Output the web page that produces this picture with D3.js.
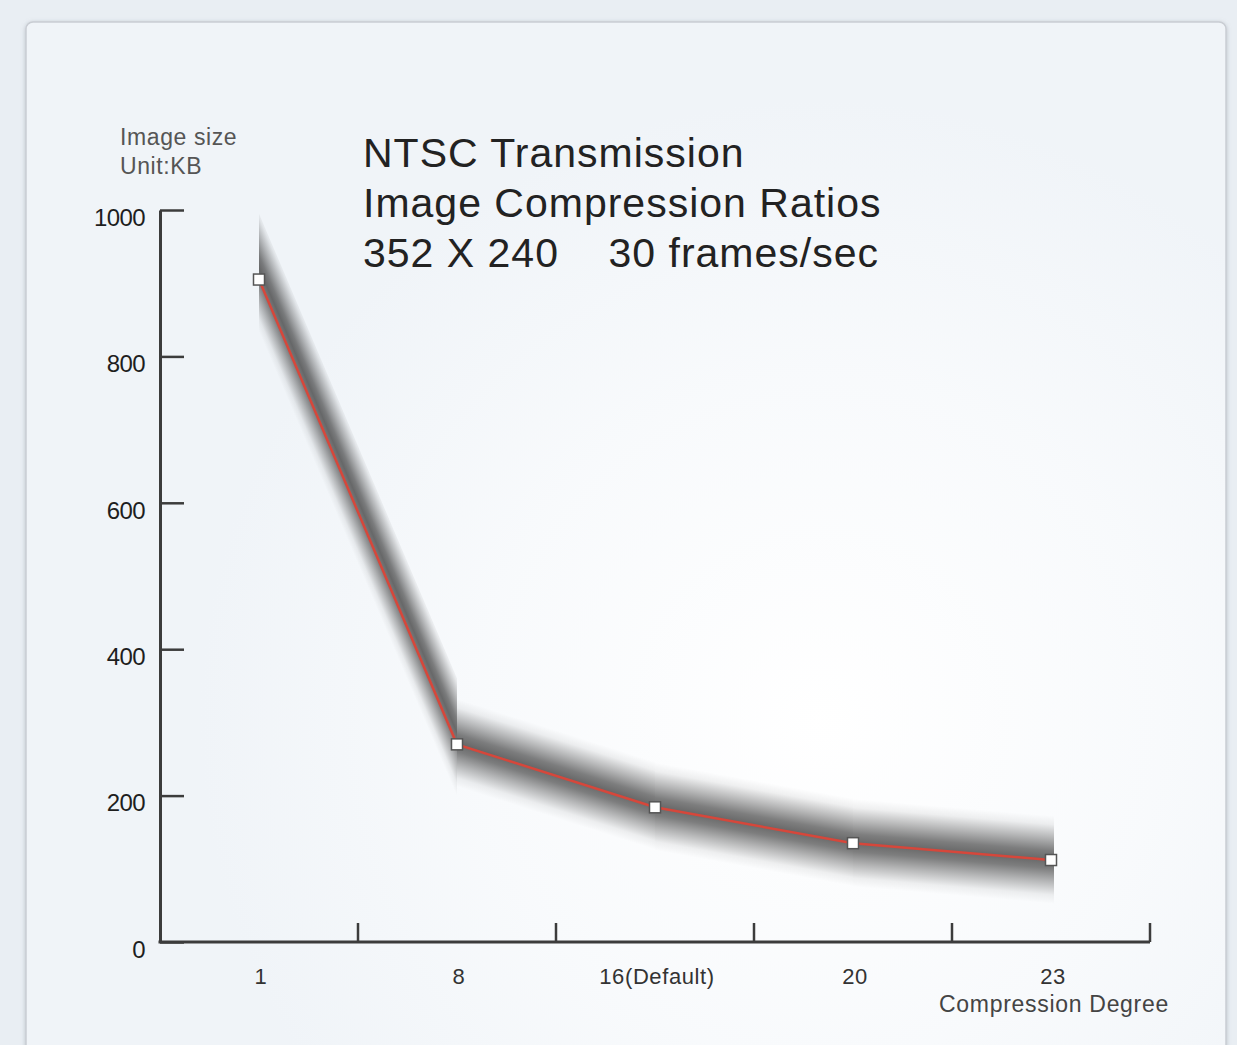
<!DOCTYPE html>
<html>
<head>
<meta charset="utf-8">
<script src="https://cdn.jsdelivr.net/npm/d3@7"></script>
<style>
  html, body { margin: 0; padding: 0; background: #e9eef3; }
  svg { display: block; font-family: "Liberation Sans", Arial, sans-serif; }
</style>
</head>
<body>
<div id="chart"></div>
<script>
// chart data
var categories = ['1', '8', '16(Default)', '20', '23'];
var imageSizes = [905, 270, 184, 135, 112];   // KB
var yTicks     = [0, 200, 400, 600, 800, 1000];
var titleLines = ['NTSC Transmission', 'Image Compression Ratios', '352 X 240    30 frames/sec'];

var width     = 1237,
    height    = 1045,
    plotLeft  = 160,
    plotRight = 1150,
    plotTop   = 210,
    plotBot   = 942;

var svg = d3.select('#chart')
	.append('svg')
	.attr('width', width)
	.attr('height', height);

var defs = svg.append('defs');

// panel background: soft bluish with a whiter glow lower right
var bg = defs.append('radialGradient')
	.attr('id', 'panelBg')
	.attr('gradientUnits', 'userSpaceOnUse')
	.attr('cx', 820).attr('cy', 720).attr('r', 620);
bg.append('stop').attr('offset', '0%').attr('stop-color', '#ffffff');
bg.append('stop').attr('offset', '55%').attr('stop-color', '#f8fafc');
bg.append('stop').attr('offset', '100%').attr('stop-color', '#f0f4f8');

var shadow = defs.append('filter').attr('id', 'panelShadow')
	.attr('x', '-5%').attr('y', '-5%').attr('width', '110%').attr('height', '110%');
shadow.append('feDropShadow')
	.attr('dx', 0).attr('dy', 1).attr('stdDeviation', 2)
	.attr('flood-color', '#8a939c').attr('flood-opacity', 0.5);

svg.append('rect')
	.attr('x', 26)
	.attr('y', 22)
	.attr('width', 1200)
	.attr('height', 1080)
	.attr('rx', 7)
	.attr('fill', 'url(#panelBg)')
	.attr('stroke', '#c9cdd3')
	.attr('stroke-width', 1.5)
	.attr('filter', 'url(#panelShadow)');

// scales
var x = d3.scaleBand()
	.domain(categories)
	.range([plotLeft, plotRight])
	.padding(0);

var y = d3.scaleLinear()
	.domain([0, 1000])
	.range([plotBot, plotTop]);

var points = categories.map(function(c, i){
	return { label: c, value: imageSizes[i], px: x(c) + x.bandwidth() / 2, py: y(imageSizes[i]) };
});

// grey smudge behind the line: a parallelogram per segment with vertical ends,
// shaded with a gradient running across the segment
var bandH = 44;   // vertical half height of the smudge on flat segments
var bandStops = [[0, 0], [0.1, 0.07], [0.25, 0.34], [0.4, 0.62], [0.5, 0.72], [0.6, 0.62], [0.75, 0.34], [0.9, 0.07], [1, 0]];

var segs = d3.pairs(points).map(function(p, i, all){
	var dx = p[1].px - p[0].px,
	    dy = p[1].py - p[0].py,
	    len = Math.sqrt(dx * dx + dy * dy),
	    cos = dx / len,
	    nx = -dy / len,
	    ny = dx / len,
	    hw = Math.max(bandH * cos, 25),   // perpendicular half width
	    h = hw / cos + 2,
	    mx = (p[0].px + p[1].px) / 2 + 5,
	    my = (p[0].py + p[1].py) / 2,
	    last = i === all.length - 1;
	return {
		id: 'band' + i,
		h: h,
		x0: p[0].px, y0: p[0].py,
		x1: p[1].px + (last ? 3 : 0), y1: p[1].py + (last ? dy / dx * 3 : 0),
		gx1: mx - nx * hw, gy1: my - ny * hw,
		gx2: mx + nx * hw, gy2: my + ny * hw
	};
});

var grads = defs.selectAll('linearGradient.band')
	.data(segs)
	.enter()
	.append('linearGradient')
	.attr('class', 'band')
	.attr('id', function(d){ return d.id; })
	.attr('gradientUnits', 'userSpaceOnUse')
	.attr('x1', function(d){ return d.gx1; })
	.attr('y1', function(d){ return d.gy1; })
	.attr('x2', function(d){ return d.gx2; })
	.attr('y2', function(d){ return d.gy2; });

grads.selectAll('stop')
	.data(bandStops)
	.enter()
	.append('stop')
	.attr('offset', function(s){ return s[0]; })
	.attr('stop-color', '#303030')
	.attr('stop-opacity', function(s){ return s[1]; });

svg.append('g')
	.attr('class', 'smudge')
	.selectAll('path')
	.data(segs)
	.enter()
	.append('path')
	.attr('d', function(d){
		return 'M' + d.x0 + ',' + (d.y0 - d.h) +
			'L' + d.x1 + ',' + (d.y1 - d.h) +
			'L' + d.x1 + ',' + (d.y1 + d.h) +
			'L' + d.x0 + ',' + (d.y0 + d.h) + 'Z';
	})
	.attr('fill', function(d){ return 'url(#' + d.id + ')'; });

// axes
var axisColor = '#3c3c3c';

var yAxis = d3.axisLeft(y)
	.tickValues(yTicks)
	.tickSizeInner(-24)
	.tickSizeOuter(0)
	.tickPadding(15)
	.tickFormat(d3.format('d'));

var gy = svg.append('g')
	.attr('transform', 'translate(' + plotLeft + ',0)')
	.call(yAxis);

gy.select('.domain')
	.attr('stroke', axisColor)
	.attr('stroke-width', 3);
gy.selectAll('.tick line')
	.attr('stroke', axisColor)
	.attr('stroke-width', 2.5);
gy.selectAll('.tick text')
	.attr('fill', '#1e1e1e')
	.attr('font-size', 24)
	.attr('letter-spacing', -0.6)
	.attr('dy', '0.64em')
	.attr('font-family', '"Liberation Sans", Arial, sans-serif');

// x axis: line with ticks at band boundaries, labels at band centres
var gx = svg.append('g').attr('class', 'x-axis');

gx.append('line')
	.attr('x1', plotLeft - 1.5)
	.attr('x2', plotRight)
	.attr('y1', plotBot)
	.attr('y2', plotBot)
	.attr('stroke', axisColor)
	.attr('stroke-width', 3);

gx.selectAll('line.tick')
	.data(categories)
	.enter()
	.append('line')
	.attr('class', 'tick')
	.attr('x1', function(d){ return x(d) + x.bandwidth(); })
	.attr('x2', function(d){ return x(d) + x.bandwidth(); })
	.attr('y1', plotBot)
	.attr('y2', plotBot - 19)
	.attr('stroke', axisColor)
	.attr('stroke-width', 2.5);

gx.selectAll('text.label')
	.data(points)
	.enter()
	.append('text')
	.attr('class', 'label')
	.attr('x', function(d){ return d.px + 2; })
	.attr('y', 984)
	.attr('text-anchor', 'middle')
	.attr('font-size', 22)
	.attr('letter-spacing', 0.6)
	.attr('fill', '#333')
	.text(function(d){ return d.label; });

svg.append('text')
	.attr('x', 1054)
	.attr('y', 1012)
	.attr('text-anchor', 'middle')
	.attr('font-size', 23)
	.attr('letter-spacing', 0.7)
	.attr('fill', '#444')
	.text('Compression Degree');

// y axis unit label
svg.append('text')
	.attr('x', 120)
	.attr('y', 145)
	.attr('font-size', 23)
	.attr('letter-spacing', 0.6)
	.attr('fill', '#555')
	.text('Image size');
svg.append('text')
	.attr('x', 120)
	.attr('y', 174)
	.attr('font-size', 23)
	.attr('letter-spacing', 0.6)
	.attr('fill', '#555')
	.text('Unit:KB');

// title block
svg.append('g')
	.selectAll('text')
	.data(titleLines)
	.enter()
	.append('text')
	.attr('x', 363)
	.attr('y', function(d, i){ return 167 + i * 50; })
	.attr('font-size', 41)
	.attr('letter-spacing', 1)
	.attr('fill', '#222')
	.style('white-space', 'pre')
	.text(function(d){ return d; });

// red line and markers
var line = d3.line()
	.x(function(d){ return d.px; })
	.y(function(d){ return d.py; });

svg.append('path')
	.datum(points)
	.attr('d', line)
	.attr('fill', 'none')
	.attr('stroke', '#d6473b')
	.attr('stroke-width', 2.5);

svg.selectAll('rect.marker')
	.data(points)
	.enter()
	.append('rect')
	.attr('class', 'marker')
	.attr('x', function(d){ return d.px - 5.5; })
	.attr('y', function(d){ return d.py - 5.5; })
	.attr('width', 11)
	.attr('height', 11)
	.attr('fill', '#ffffff')
	.attr('stroke', '#555')
	.attr('stroke-width', 1.5);
</script>
</body>
</html>
